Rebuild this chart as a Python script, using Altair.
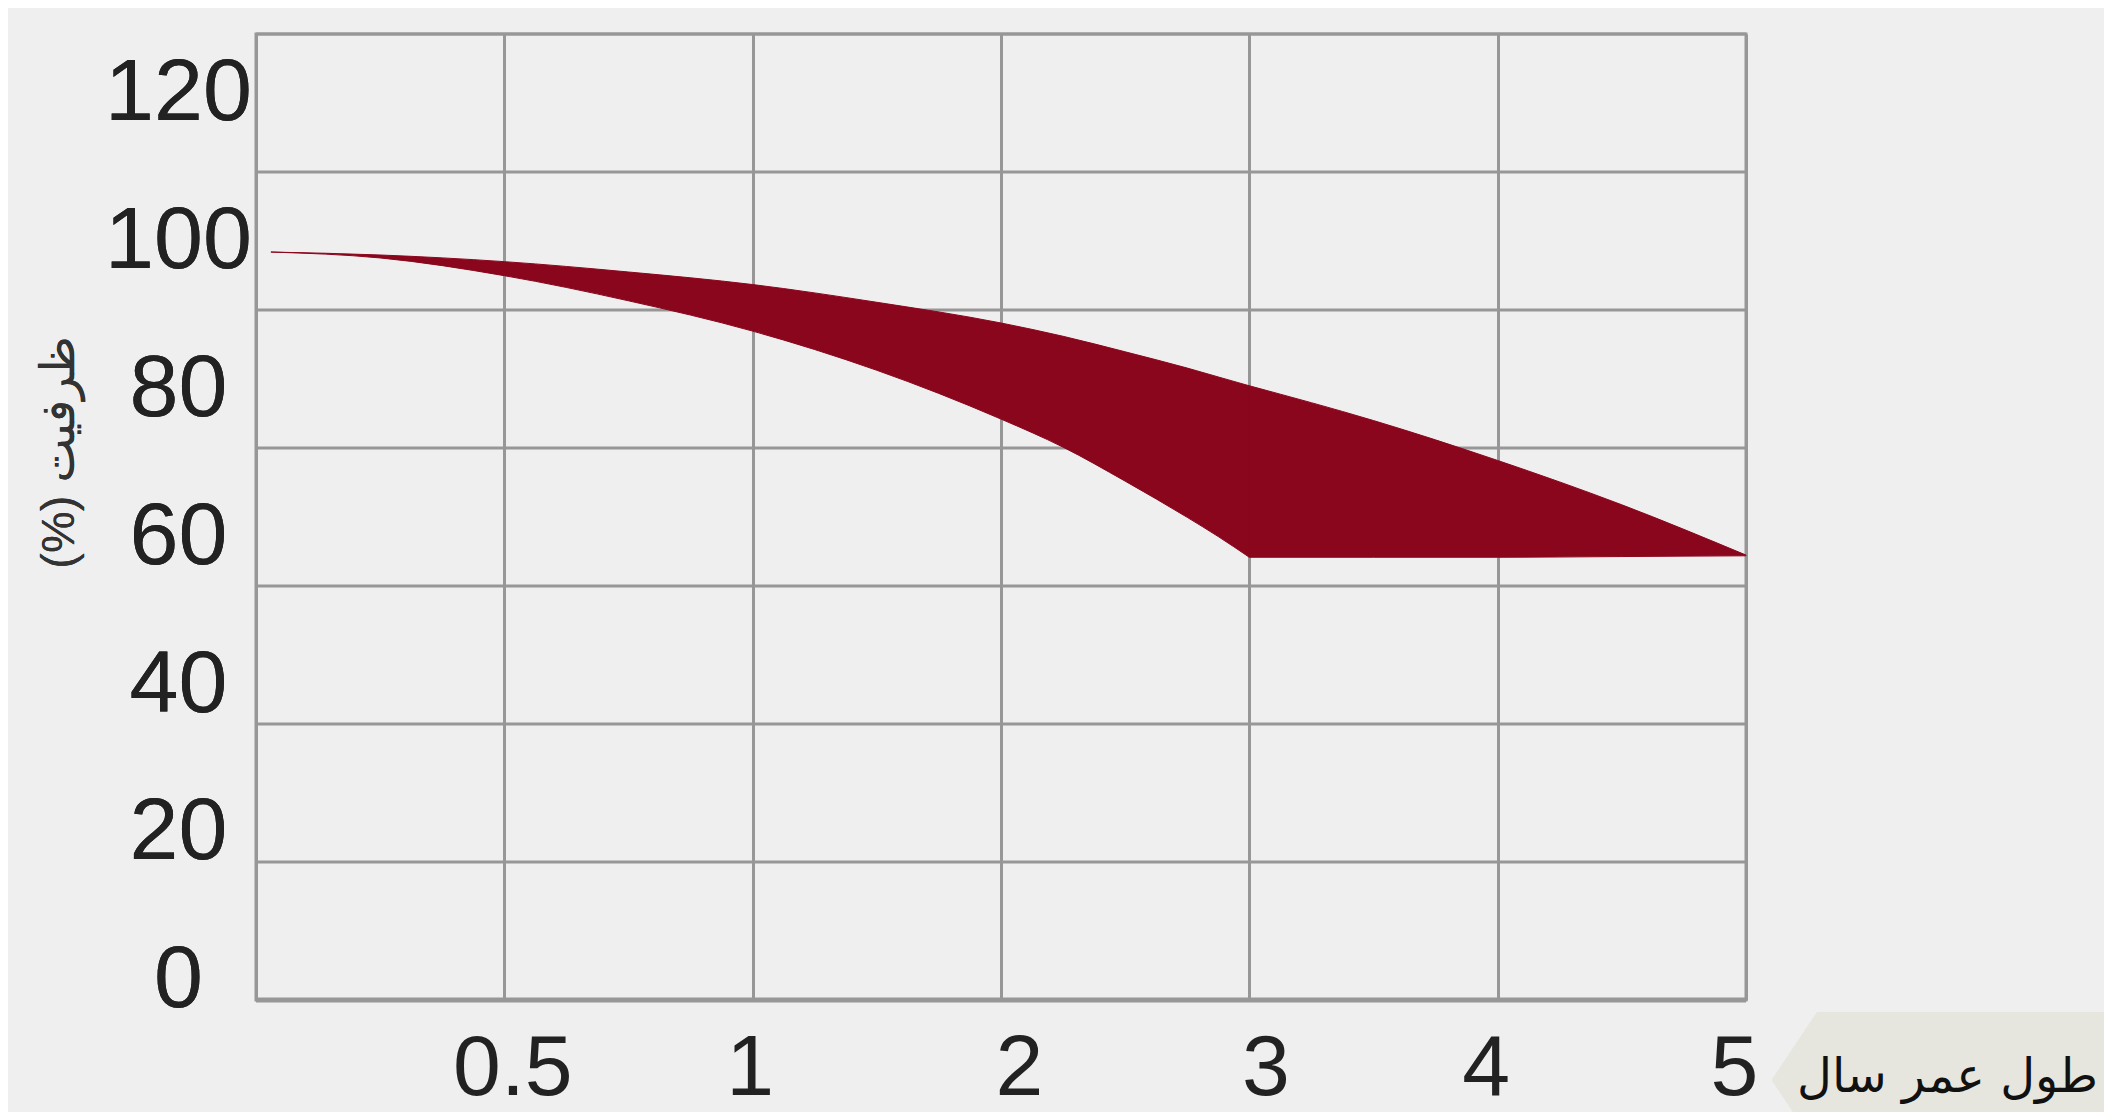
import altair as alt
import pandas as pd

# ---- data ----
years = [0.03, 0.25, 0.5, 0.75, 1, 1.5, 2, 2.25, 2.5, 2.75, 2.875, 3, 3.5, 4, 4.5, 5]
upper = [98.6, 98.2, 97.3, 95.9, 94.2, 91.8, 89.0, 87.2, 85.1, 82.9, 81.7, 80.5, 75.8, 70.4, 64.4, 57.6]
lower = [98.6, 97.8, 95.4, 92.0, 87.9, 82.6, 76.0, 72.2, 67.6, 62.7, 60.1, 57.3, 57.3, 57.3, 57.4, 57.5]

x_ticks = [0, 0.5, 1, 2, 3, 4, 5]
y_labels = [0, 20, 40, 60, 80, 100, 120]
grid_rows = [0, 1, 2, 3, 4, 5, 6, 7]
knee_year = 3  # where the lower edge turns flat

x_title = "طول عمر سال"
y_title = "(%) ظرفیت"

W, H = 1490, 966
GRID = "#979797"
FILL = "#8a061d"
FONT = "Liberation Sans, DejaVu Sans"

df = pd.DataFrame({"year": years, "upper": upper, "lower": lower})

x_scale = alt.Scale(domain=x_ticks, range=[W * i / 6 for i in range(7)], nice=False, zero=False)

grid = alt.Chart(pd.DataFrame({"g": grid_rows})).mark_rule(color=GRID).encode(
    y=alt.Y("g:Q", scale=alt.Scale(domain=[0, 7], nice=False, zero=False), axis=None),
    x=alt.datum(0),
    x2=alt.datum(5),
    strokeWidth=alt.condition("datum.g == 0", alt.value(5), alt.value(3)),
)

x_label_offset = {
    "condition": [
        {"test": "datum.value == 0.5", "value": 8},
        {"test": "datum.value == 1", "value": -3},
        {"test": "datum.value == 2", "value": 18},
        {"test": "datum.value == 3", "value": 16},
    ],
    "value": -12,
}

x_enc = alt.X(
    "year:Q",
    scale=x_scale,
    axis=alt.Axis(
        values=x_ticks, grid=True, gridColor=GRID, gridWidth=3, domain=False,
        ticks=False, tickSize=0, labelExpr="datum.value == 0 ? '' : '' + datum.value",
        labelFontSize=86, labelFont=FONT, labelColor="#222222", labelPadding=26,
        labelBaseline="top", labelFlush=False, labelOverlap=False, title=None,
        labelOffset=x_label_offset,
    ),
)
y_enc = alt.Y(
    "upper:Q",
    scale=alt.Scale(domain=[-2.6, 128.1], nice=False, zero=False),
    axis=alt.Axis(
        values=y_labels, format="d", grid=False, domain=False, ticks=False, tickSize=0,
        orient="left", labelAlign="center", labelBaseline="middle", labelPadding=78,
        labelFontSize=88, labelFont=FONT, labelColor="#222222", labelOverlap=False,
        title=y_title, titleFont=FONT, titleFontSize=47, titleFontWeight="normal",
        titleColor="#333333", titleX=-197, titleY=418, titleAngle=270,
        titleAlign="center", titleBaseline="middle",
    ),
)

base_area = alt.Chart(df).mark_area(
    color=FILL, stroke=FILL, strokeWidth=1, interpolate="monotone"
).encode(x=x_enc, y=y_enc, y2="lower:Q")
area_a = base_area.transform_filter(alt.datum.year <= knee_year)
area_b = base_area.transform_filter(alt.datum.year >= knee_year)

tag = alt.Chart(pd.DataFrame({"a": [0]})).mark_point(
    shape="M-1,0 L-0.74,-0.389 L1,-0.389 L1,0.389 L-0.74,0.389 Z",
    filled=True, fill="#e6e6de", opacity=1, strokeWidth=0, size=122500,
).encode(x=alt.value(1690.5), y=alt.value(1046))

tag_text = alt.Chart(pd.DataFrame({"a": [0]})).mark_text(
    text=x_title, align="right", baseline="alphabetic", fontSize=48,
    font="DejaVu Sans", color="#111111",
).encode(x=alt.value(1842), y=alt.value(1058))

chart = (
    alt.layer(grid, area_a, area_b, tag, tag_text)
    .resolve_scale(y="independent")
    .properties(
        width=W, height=H,
        padding={"left": 248, "top": 26, "right": 358, "bottom": 112},
        autosize=alt.AutoSizeParams(type="none"),
        background="#efefef",
    )
    .configure_view(stroke=GRID, strokeWidth=3)
)

chart.save("out.html", embed_options={"renderer": "svg", "actions": False})
